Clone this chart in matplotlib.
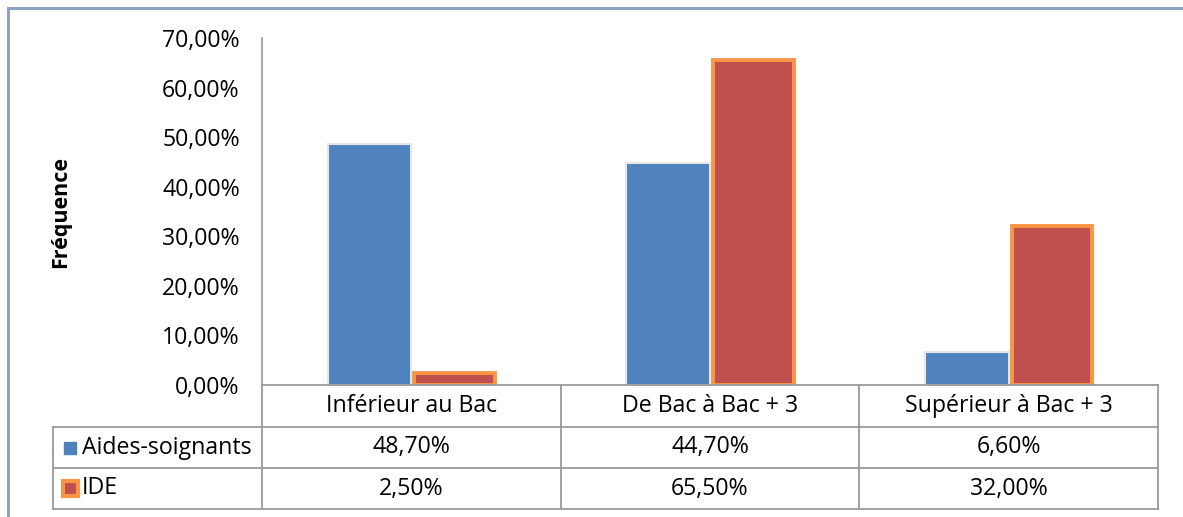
import matplotlib.pyplot as plt
import matplotlib.patches as mpatches
from matplotlib.lines import Line2D
import numpy as np

plt.rcParams['font.family'] = ['Open Sans', 'DejaVu Sans']

# données
categories = ['Inférieur au Bac', 'De Bac à Bac + 3', 'Supérieur à Bac + 3']
series_names = ['Aides-soignants', 'IDE']
aides = [48.70, 44.70, 6.60]
ide = [2.50, 65.50, 32.00]
yticks = [0, 10, 20, 30, 40, 50, 60, 70]

blue = '#4F81BD'
red = '#C0504D'
orange = '#F79646'
grid_c = '#9a9a9a'
fs = 16.7

W, H = 1183, 517
fig = plt.figure(figsize=(W / 100, H / 100), dpi=100)

# cadre extérieur (haut et gauche seulement visibles)
fig.add_artist(Line2D([8 / W, 1.0], [1 - 8 / H, 1 - 8 / H], color='#8EA3C4', lw=2.2))
fig.add_artist(Line2D([8 / W, 8 / W], [0, 1 - 8 / H], color='#8EA3C4', lw=2.2))

x0, x1 = 262, 1158
y0, y1 = 385, 38
ax = fig.add_axes([x0 / W, 1 - y0 / H, (x1 - x0) / W, (y0 - y1) / H])
ax.set_xlim(-0.5, 2.5)
ax.set_ylim(0, 70)
for s in ['top', 'right', 'bottom']:
    ax.spines[s].set_visible(False)
ax.spines['left'].set_color(grid_c)
ax.spines['left'].set_linewidth(1.2)

x = np.arange(len(categories))
w = 0.28
ax.bar(x - w / 2, aides, w, color=blue, edgecolor='#e6e6e6', linewidth=1.5, zorder=3)
ax.bar(x + w / 2 + 0.005, ide, w - 0.01, color=red, edgecolor=orange, linewidth=2.8, zorder=3)

ax.set_yticks(yticks)
ax.set_yticklabels([f'{v:.2f}%'.replace('.', ',') for v in yticks], fontsize=fs)
ax.tick_params(axis='y', length=0, pad=16)
ax.set_xticks([])

ax.set_ylabel('Fréquence', fontsize=15.5, fontweight='bold', labelpad=0)
ax.yaxis.set_label_coords((71 - x0) / (x1 - x0), 0.5)

# tableau de données
def fy(py):
    return 1 - py / H

def fx(px):
    return px / W

rows = [385, 427, 468, 509]
tl = 53
lc = dict(color=grid_c, lw=1.3)
# lignes horizontales
fig.add_artist(Line2D([fx(x0), fx(x1)], [fy(rows[0])] * 2, **lc))
for r in rows[1:]:
    fig.add_artist(Line2D([fx(tl), fx(x1)], [fy(r)] * 2, **lc))
# lignes verticales
fig.add_artist(Line2D([fx(tl)] * 2, [fy(rows[1]), fy(rows[3])], **lc))
fig.add_artist(Line2D([fx(x0)] * 2, [fy(rows[0]), fy(rows[3])], **lc))
cw = (x1 - x0) / 3
for i in range(1, 4):
    xc = x0 + i * cw
    fig.add_artist(Line2D([fx(xc)] * 2, [fy(rows[0]), fy(rows[3])], **lc))

for i, cat in enumerate(categories):
    cx = x0 + (i + 0.5) * cw
    fig.text(fx(cx), fy((rows[0] + rows[1]) / 2), cat, ha='center', va='center', fontsize=fs)
    fig.text(fx(cx), fy((rows[1] + rows[2]) / 2), f'{aides[i]:.2f}%'.replace('.', ','),
             ha='center', va='center', fontsize=fs)
    fig.text(fx(cx), fy((rows[2] + rows[3]) / 2), f'{ide[i]:.2f}%'.replace('.', ','),
             ha='center', va='center', fontsize=fs)

# clé de légende dans le tableau
fig.add_artist(mpatches.Rectangle((fx(64), fy(454)), 12 / W, 12 / H, color=blue))
fig.add_artist(mpatches.Rectangle((fx(63), fy(496)), 15 / W, 15 / H, facecolor=red,
                                  edgecolor=orange, lw=3))
fig.text(fx(82), fy((rows[1] + rows[2]) / 2), series_names[0], ha='left', va='center', fontsize=fs)
fig.text(fx(82), fy((rows[2] + rows[3]) / 2), series_names[1], ha='left', va='center', fontsize=fs)

fig.savefig('out.png', dpi=100)
